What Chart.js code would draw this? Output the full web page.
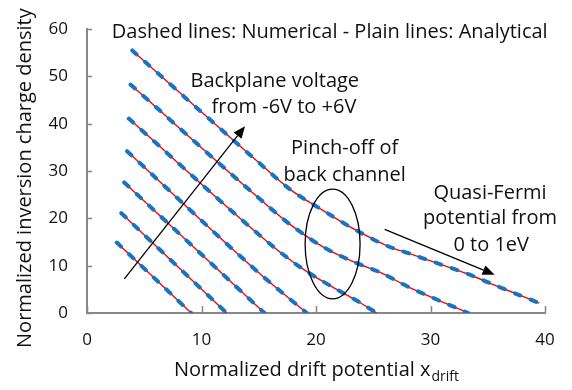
<!DOCTYPE html>
<html>
<head>
<meta charset="utf-8">
<script src="https://cdn.jsdelivr.net/npm/chart.js@4.4.1/dist/chart.umd.min.js"></script>
<style>
  html, body { margin: 0; padding: 0; background: #fff; }
  canvas { display: block; }
</style>
</head>
<body>
<canvas id="qChart" width="572" height="390"></canvas>
<script>
// curves, one per backplane voltage / quasi-Fermi step, [x, y]
const curve1 = [[2.6, 14.9], [9.1, 0]];
const curve2 = [[3.0, 21.1], [12.2, 0]];
const curve3 = [[3.25, 27.6], [15.5, 0]];
const curve4 = [[3.5, 34.2], [15.1, 8.3], [17.2, 4.0], [19.2, 0]];
const curve5 = [[3.65, 41.1], [15.1, 16.4], [17.7, 11.3], [19.3, 8.6], [21.8, 5.0], [23.5, 2.7], [25.3, 0]];
const curve6 = [[3.8, 48.3], [15.1, 24.1], [17.7, 18.8], [20.6, 14.0], [23.5, 10.6], [25.6, 8.6], [28, 5.6], [30.5, 2.9], [33.3, 0]];
const curve7 = [[3.95, 55.5], [15.1, 31.6], [17.7, 26.2], [20.6, 21.7], [23.5, 17.5], [26.4, 14.0], [28, 12.7], [30.5, 10.6], [33.2, 8.3], [36, 5.5], [39.5, 2.1]];
const curves = [curve1, curve2, curve3, curve4, curve5, curve6, curve7];

const xTicks = [0, 10, 20, 30, 40];
const yTicks = [0, 10, 20, 30, 40, 50, 60];

const FONT = "'Open Sans', sans-serif";
const AXIS_GRAY = '#878787';

function pts(c) {
    return c.map(p => ({ x: p[0], y: p[1] }));
}

// numerical = blue dashed (drawn on top), analytical = plain red
const datasets = [];
curves.forEach(function (c) {
    datasets.push({
        data: pts(c),
        borderColor: '#1a73c2',
        borderWidth: 4,
        borderDash: [6, 11],
        borderCapStyle: 'round',
        order: 0
    });
});
curves.forEach(function (c) {
    datasets.push({
        data: pts(c),
        borderColor: '#ff0000',
        borderWidth: 1.4,
        order: 1
    });
});

function arrow(ctx, x1, y1, x2, y2) {
    const a = Math.atan2(y2 - y1, x2 - x1);
    const len = 12, half = 5;
    const bx = x2 - len * Math.cos(a), by = y2 - len * Math.sin(a);
    ctx.beginPath();
    ctx.moveTo(x1, y1);
    ctx.lineTo(bx, by);
    ctx.stroke();
    ctx.beginPath();
    ctx.moveTo(x2, y2);
    ctx.lineTo(bx + half * Math.sin(a), by - half * Math.cos(a));
    ctx.lineTo(bx - half * Math.sin(a), by + half * Math.cos(a));
    ctx.closePath();
    ctx.fill();
}

const extras = {
    id: 'extras',
    afterDraw(chart) {
        const ctx = chart.ctx;
        const xs = chart.scales.x, ys = chart.scales.y;
        const X = v => xs.getPixelForValue(v), Y = v => ys.getPixelForValue(v);
        const area = chart.chartArea;

        ctx.save();
        // inner tick marks
        ctx.strokeStyle = AXIS_GRAY;
        ctx.lineWidth = 1.5;
        xTicks.forEach(function (t) {
            ctx.beginPath();
            ctx.moveTo(Math.round(X(t)) + 0.5, area.bottom);
            ctx.lineTo(Math.round(X(t)) + 0.5, area.bottom - 7);
            ctx.stroke();
        });
        yTicks.forEach(function (t) {
            ctx.beginPath();
            ctx.moveTo(area.left, Math.round(Y(t)) + 0.5);
            ctx.lineTo(area.left + 5, Math.round(Y(t)) + 0.5);
            ctx.stroke();
        });

        // arrows and ellipse
        ctx.strokeStyle = '#000';
        ctx.fillStyle = '#000';
        ctx.lineWidth = 1.3;
        arrow(ctx, X(3.26), Y(7.2), X(13.8), Y(39.5));
        arrow(ctx, X(26.0), Y(17.7), X(35.6), Y(8.1));
        ctx.beginPath();
        ctx.ellipse(X(21.45), Y(14.6), X(21.45 + 2.4) - X(21.45), Y(14.6) - Y(14.6 + 11.6), 0, 0, Math.PI * 2);
        ctx.stroke();

        // annotation text
        ctx.fillStyle = '#111';
        ctx.textAlign = 'center';
        ctx.textBaseline = 'middle';
        ctx.font = '20px ' + FONT;
        ctx.fillText('Dashed lines: Numerical - Plain lines: Analytical', X(21.2), Y(59.4));
        ctx.fillText('Backplane voltage', X(16.4), Y(48.9));
        ctx.fillText('from -6V to +6V', X(17.2), Y(43.5));
        ctx.fillText('Pinch-off of', X(22.5), Y(34.8));
        ctx.fillText('back channel', X(22.5), Y(29.2));
        ctx.fillText('Quasi-Fermi', X(35.2), Y(25.4));
        ctx.fillText('potential from', X(35.2), Y(20.1));
        ctx.fillText('0 to 1eV', X(35.3), Y(14.3));

        // axis titles
        ctx.font = '20px ' + FONT;
        const main = 'Normalized drift potential x';
        const mw = ctx.measureText(main).width;
        ctx.font = '14px ' + FONT;
        const sw = ctx.measureText('drift').width;
        const cx = (area.left + area.right) / 2;
        const startX = cx - (mw + sw) / 2;
        ctx.textAlign = 'left';
        ctx.font = '20px ' + FONT;
        ctx.fillText(main, startX, area.bottom + 57);
        ctx.font = '14px ' + FONT;
        ctx.fillText('drift', startX + mw + 1, area.bottom + 64);

        ctx.translate(25, (area.top + area.bottom) / 2 + 7);
        ctx.rotate(-Math.PI / 2);
        ctx.textAlign = 'center';
        ctx.font = '20px ' + FONT;
        ctx.fillText('Normalized inversion charge density', 0, 0);
        ctx.restore();
    }
};

new Chart(document.getElementById('qChart'), {
    type: 'scatter',
    data: { datasets: datasets },
    options: {
        responsive: false,
        animation: false,
        devicePixelRatio: 1,
        showLine: true,
        elements: {
            point: { radius: 0, hoverRadius: 0 },
            line: { cubicInterpolationMode: 'monotone', fill: false }
        },
        layout: { padding: { top: 15, right: 27, left: 0, bottom: 0 } },
        plugins: { legend: { display: false }, tooltip: { enabled: false } },
        scales: {
            x: {
                type: 'linear', min: 0, max: 40,
                afterBuildTicks: s => { s.ticks = xTicks.map(v => ({ value: v })); },
                afterFit: s => { s.height = 77; },
                grid: { display: false, drawTicks: false },
                border: { display: true, color: AXIS_GRAY, width: 2 },
                ticks: { color: '#111', padding: 17, font: { family: FONT, size: 17 } }
            },
            y: {
                type: 'linear', min: 0, max: 60,
                afterBuildTicks: s => { s.ticks = yTicks.map(v => ({ value: v })); },
                afterFit: s => { s.width = 87; },
                grid: { display: false, drawTicks: false },
                border: { display: true, color: AXIS_GRAY, width: 2 },
                ticks: { color: '#111', padding: 19, font: { family: FONT, size: 17 } }
            }
        }
    },
    plugins: [extras]
});
</script>
</body>
</html>
